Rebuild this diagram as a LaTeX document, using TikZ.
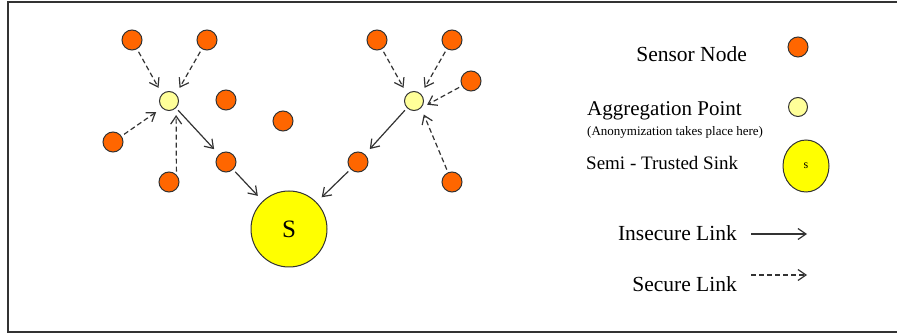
\documentclass[tikz,border=0pt]{standalone}
\usepackage{fontspec}
\setmainfont{Liberation Serif}
\usetikzlibrary{arrows.meta,shapes.geometric}
\definecolor{sensor}{HTML}{FF6600}
\definecolor{aggr}{HTML}{FFFF99}
\definecolor{sinkc}{HTML}{FFFF00}
\definecolor{edge}{HTML}{333333}
\tikzset{
  sensornode/.style={circle,draw=edge,line width=1pt,fill=sensor,minimum size=20pt,inner sep=0pt},
  aggnode/.style={circle,draw=edge,line width=1pt,fill=aggr,minimum size=19pt,inner sep=0pt},
  sinknode/.style={circle,draw=edge,line width=1pt,fill=sinkc,minimum size=76pt,inner sep=0pt,font=\fontsize{25}{25}\selectfont},
  tip/.style={-{Straight Barb[length=8pt,width=11pt]}},
  securelink/.style={tip,draw=edge,line width=1.2pt,dash pattern=on 5pt off 3pt,shorten <=3pt,shorten >=7pt},
  insecurelink/.style={tip,draw=edge,line width=1.2pt,shorten <=3pt,shorten >=7pt},
  lbl/.style={inner sep=0pt,font=\fontsize{21.5}{21.5}\selectfont}
}
\begin{document}
\begin{tikzpicture}[x=1pt,y=-1pt]
\useasboundingbox (0,0) rectangle (897,336);
\draw[edge,line width=2pt] (902,2) -- (8,2) -- (8,332) -- (902,332);
% left cluster
\node[sensornode] (a) at (132,40) {};
\node[sensornode] (b) at (207,40) {};
\node[aggnode] (p1) at (169,101) {};
\node[sensornode] (c) at (226,100) {};
\node[sensornode] (d) at (283,121) {};
\node[sensornode] (e) at (113,142) {};
\node[sensornode] (f) at (226,162) {};
\node[sensornode] (g) at (169,182) {};
\node[sinknode] (s) at (289,229) {S};
% right cluster
\node[sensornode] (h) at (377,40) {};
\node[sensornode] (i) at (452,40) {};
\node[sensornode] (j) at (471,81) {};
\node[aggnode] (p2) at (414,101) {};
\node[sensornode] (k) at (358,162) {};
\node[sensornode] (l) at (452,182) {};
% links
\draw[securelink] (a) -- (p1.north west);
\draw[securelink] (b) -- (p1.north east);
\draw[securelink] (e) -- (p1.south west);
\draw[securelink] (g.north east) -- (p1.south east);
\draw[insecurelink] (p1.south east) -- (f);
\draw[insecurelink] (f) -- (s);
\draw[securelink] (h) -- (p2.north west);
\draw[securelink] (i) -- (p2.north east);
\draw[securelink] (j) -- (p2.south east);
\draw[securelink] (l) -- (p2.south east);
\draw[insecurelink] (p2.south west) -- (k);
\draw[insecurelink] (k) -- (s);
% legend
\node[lbl,anchor=base east] (t1) at (747,62) {Sensor Node};
\node[sensornode] (ls) at (798,47) {};
\node[lbl,anchor=base west,font=\fontsize{21}{21}\selectfont] (t2) at (587,116) {Aggregation Point};
\node[lbl,anchor=base west,font=\fontsize{13}{13}\selectfont] (t3) at (587,136) {(Anonymization takes place here)};
\node[aggnode] (la) at (798,107) {};
\node[lbl,anchor=base west,font=\fontsize{19}{19}\selectfont] (t4) at (586,170) {Semi - Trusted Sink};
\node[ellipse,draw=edge,line width=1pt,fill=sinkc,minimum width=46pt,minimum height=52pt,inner sep=0pt,font=\fontsize{12}{12}\selectfont] (lk) at (806,166) {s};
\node[lbl,anchor=base east] (t5) at (737,241) {Insecure Link};
\coordinate (i1) at (751,234);
\coordinate (i2) at (807,234);
\draw[tip,draw=edge,line width=1.2pt] (i1) -- (i2);
\node[lbl,anchor=base east] (t6) at (737,292) {Secure Link};
\coordinate (s1) at (751,275);
\coordinate (s2) at (807,275);
\draw[tip,draw=edge,line width=1.2pt,dash pattern=on 5pt off 3pt] (s1) -- (s2);
\end{tikzpicture}
\end{document}
